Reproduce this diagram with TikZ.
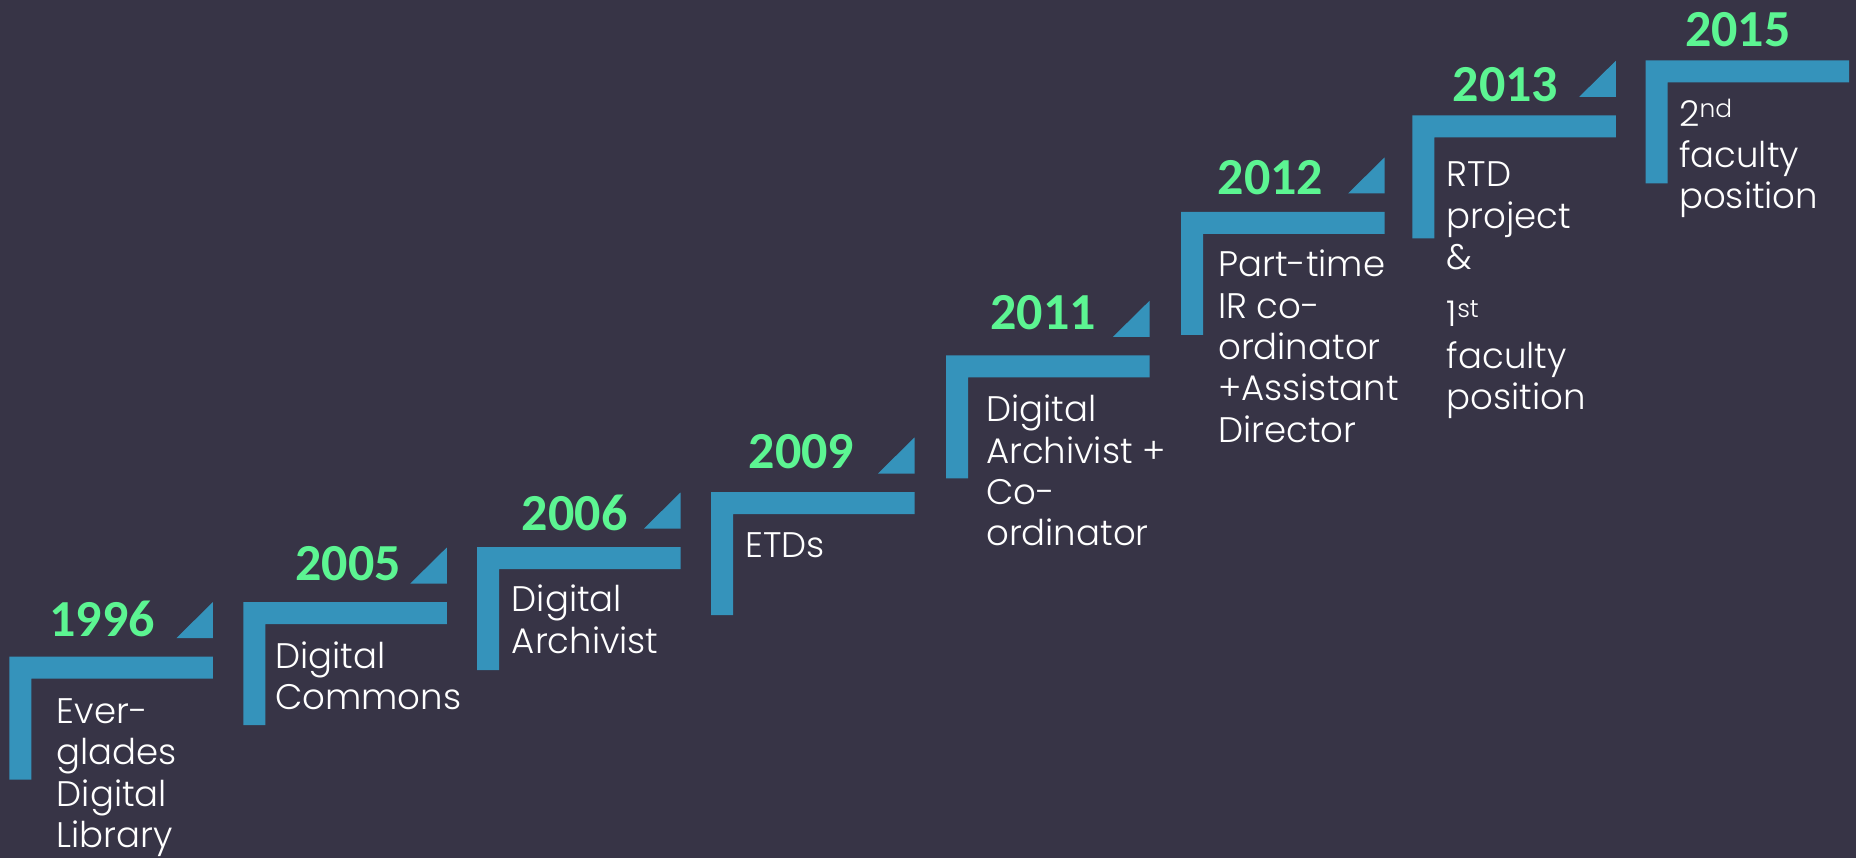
\documentclass[tikz,border=0pt]{standalone}
\usepackage{fontspec}
\setmainfont{Poppins Light}
\newfontfamily\yearfont{Carlito}
\definecolor{bgslate}{HTML}{373446}
\definecolor{stepblue}{HTML}{3593BB}
\definecolor{yeargreen}{HTML}{5CF592}

\begin{document}
\begin{tikzpicture}[x=1pt,y=-1pt,
    yr/.style={font=\yearfont\bfseries\fontsize{52}{52}\selectfont,text=yeargreen,inner sep=0pt,anchor=base},
    lbl/.style={font=\fontsize{35.5}{41.3}\selectfont,text=white,align=left,inner sep=0pt,anchor=north west}]
            \fill[bgslate] (0,0) rectangle (1856,858);
            % steps
            \foreach \xl/\yt in {9.3/656.7,243.3/602,477/547,711/492,946/355.3,1181/212,1412.3/115.3,1645.7/60.3}
                \fill[stepblue] (\xl,\yt) -- ++(203.5,0) -- ++(0,22) -- ++(-181.5,0) -- ++(0,101) -- ++(-22,0) -- cycle;
            % corner flags
            \foreach \xl/\yt in {9.3/656.7,243.3/602,477/547,711/492,946/355.3,1181/212,1412.3/115.3}
                \fill[stepblue] (\xl+203.5,\yt-18.5) -- ++(-36.5,0) -- ++(36.5,-36) -- cycle;
            % years
            \node[yr] (y1996) at (102,636) {1996};
            \node[yr] (y2005) at (348,580.7) {2005};
            \node[yr] (y2006) at (574.7,530) {2006};
            \node[yr] (y2009) at (801.5,468.7) {2009};
            \node[yr] (y2011) at (1043,329.3) {2011};
            \node[yr] (y2012) at (1270.5,195) {2012};
            \node[yr] (y2013) at (1505.5,101.7) {2013};
            \node[yr] (y2015) at (1737.8,46.7) {2015};
            % labels
            \node[lbl] (t1996) at (56.7,693.3) {\rule{0pt}{30pt}Ever-\\glades\\Digital\\Library};
            \node[lbl] (t2005) at (275,638.3) {\rule{0pt}{30pt}Digital\\Commons};
            \node[lbl] (t2006) at (511.7,581.7) {\rule{0pt}{30pt}Digital\\Archivist};
            \node[lbl] (t2009) at (745,527) {\rule{0pt}{30pt}ETDs};
            \node[lbl] (t2011) at (986,391.7) {\rule{0pt}{30pt}Digital\\Archivist +\\Co-\\ordinator};
            \node[lbl] (t2012) at (1218,246.7) {\rule{0pt}{30pt}Part-time\\IR co-\\ordinator\\+Assistant\\Director};
            \node[lbl] (t2013) at (1446.7,156.7) {\rule{0pt}{30pt}RTD\\project\\\&\\[16pt]1\textsuperscript{st}\\faculty\\position};
            \node[lbl] (t2015) at (1679,96) {\rule{0pt}{30pt}2\textsuperscript{nd}\\faculty\\position};
\end{tikzpicture}
\end{document}
